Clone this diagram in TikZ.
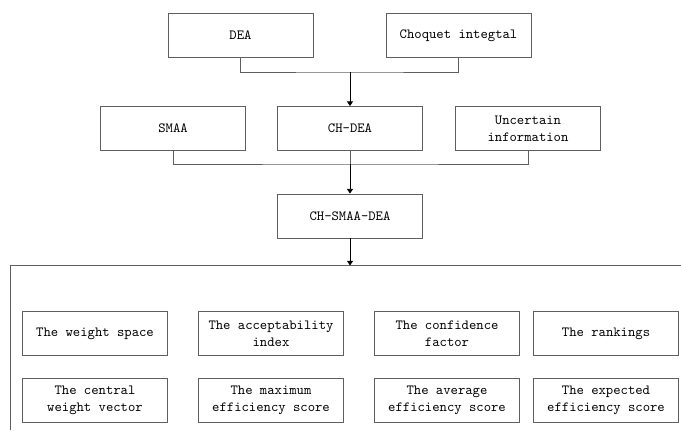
\documentclass[tikz,border=0pt]{standalone}
\usepackage{fontspec}
\usetikzlibrary{arrows.meta,calc}
\definecolor{boxline}{RGB}{95,95,95}
\tikzset{
  flow box/.style={
    rectangle,
    draw=boxline,
    line width=0.7pt,
    minimum width=108.75pt,
    minimum height=33pt,
    inner sep=0pt,
    align=center,
    font=\fontsize{10.5}{12.75}\selectfont\ttfamily
  },
  link/.style={
    draw=boxline,
    line width=0.7pt
  },
  arrow/.style={
    -{Triangle[width=4.5pt,length=3.5pt]},
    draw=black,
    line width=0.6pt
  }
}

\begin{document}
\begin{tikzpicture}[x=0.75pt,y=-0.75pt]
  \useasboundingbox (0,0) rectangle (681,430);

  % Inputs
  \node[flow box] (dea) at (240.5,35.5) {DEA};
  \node[flow box] (choquet) at (458.5,35.5) {Choquet integtal};

  % Middle row
  \node[flow box] (smaa) at (173,128.5) {SMAA};
  \node[flow box] (chdea) at (350,128.5) {CH-DEA};
  \node[flow box] (uncertain) at (528,128.5) {Uncertain\\information};

  % Combined model
  \node[flow box] (chsmaa) at (350,216) {CH-SMAA-DEA};

  % Connections
  \coordinate (join1) at (350,72);
  \coordinate (join2) at (350,164);
  \draw[link] (dea.south) |- (join1) -| (choquet.south);
  \draw[arrow] (join1) -- (chdea.north);
  \draw[link] (smaa.south) |- (join2) -| (uncertain.south);
  \draw[link] (chdea.south) -- (join2);
  \draw[arrow] (join2) -- (chsmaa.north);

  % Output frame
  \coordinate (frame top) at (350,265.5);
  \coordinate (frame left) at (10,265.5);
  \coordinate (frame right) at (681,265.5);
  \coordinate (frame foot) at (10,430);
  \draw[link] (frame foot) -- (frame left) -- (frame right);
  \draw[arrow] (chsmaa.south) -- (frame top);

  % Outputs
  \node[flow box] (space) at (95,333.5) {The weight space};
  \node[flow box] (accept) at (271,333.5) {The acceptability\\index};
  \node[flow box] (confid) at (447,333.5) {The confidence\\factor};
  \node[flow box] (rank) at (606,333.5) {The rankings};
  \node[flow box] (central) at (95,400.5) {The central\\weight vector};
  \node[flow box] (maxeff) at (271,400.5) {The maximum\\efficiency score};
  \node[flow box] (aveff) at (447,400.5) {The average\\efficiency score};
  \node[flow box] (expeff) at (606,400.5) {The expected\\efficiency score};
\end{tikzpicture}
\end{document}
